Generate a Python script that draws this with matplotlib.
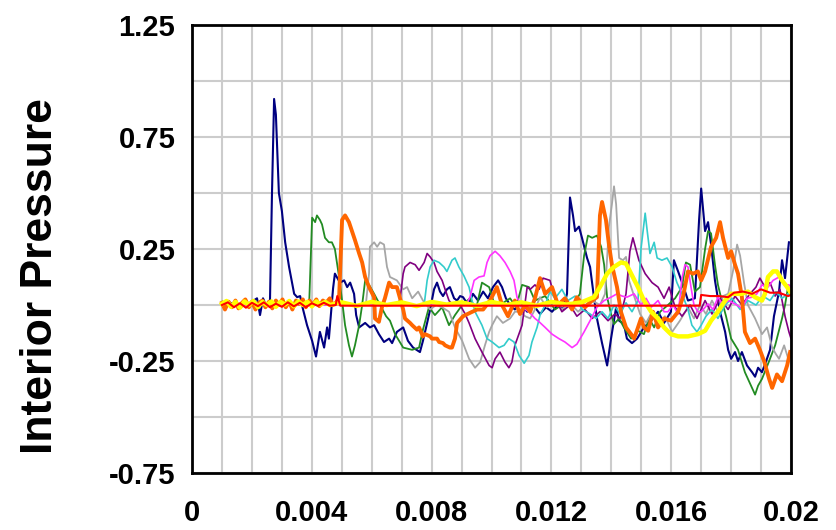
import numpy as np
import matplotlib
matplotlib.use("Agg")
import matplotlib.pyplot as plt

# time in ms, pressure
t_navy = [1.00, 1.27, 1.60, 1.94, 2.17, 2.27, 2.37, 2.47, 2.60, 2.67,
          2.74, 2.80, 2.90, 3.00, 3.11, 3.24, 3.41, 3.51, 3.61, 3.67,
          3.84, 4.01, 4.14, 4.27, 4.41, 4.51, 4.57, 4.64, 4.71, 4.77,
          4.94, 5.08, 5.18, 5.28, 5.41, 5.48, 5.58, 5.78, 5.94, 6.08,
          6.24, 6.41, 6.58, 6.68, 6.84, 7.05, 7.21, 7.38, 7.61, 7.71,
          7.85, 7.95, 8.08, 8.18, 8.28, 8.38, 8.51, 8.61, 8.75, 8.85,
          8.95, 9.05, 9.22, 9.38, 9.55, 9.72, 9.88, 10.05, 10.22, 10.35,
          10.48, 10.62, 10.78, 10.95, 11.19, 11.39, 11.62, 11.82, 12.02, 12.22,
          12.39, 12.52, 12.62, 12.72, 12.79, 12.92, 13.02, 13.19, 13.29, 13.42,
          13.52, 13.69, 13.86, 13.99, 14.16, 14.26, 14.42, 14.52, 14.69, 14.86,
          15.09, 15.33, 15.56, 15.76, 15.99, 16.09, 16.23, 16.39, 16.56, 16.79,
          16.93, 17.00, 17.13, 17.23, 17.33, 17.46, 17.63, 17.80, 17.90, 18.00,
          18.13, 18.23, 18.36, 18.53, 18.70, 18.80, 18.90, 19.03, 19.17, 19.30,
          19.43, 19.60, 19.70, 19.80, 19.93]
p_navy = [0.0, 0.01, -0.01, 0.01, 0.03, -0.045, 0.03, 0.0, 0.0, 0.5,
          0.92, 0.85, 0.5, 0.42, 0.28, 0.17, 0.05, 0.035, 0.04, 0.0,
          -0.09, -0.16, -0.23, -0.12, -0.19, -0.10, -0.15, -0.04, 0.075, 0.14,
          0.10, 0.11, 0.08, 0.10, 0.05, -0.045, -0.10, -0.08, -0.10, -0.09,
          -0.13, -0.165, -0.15, -0.17, -0.12, -0.10, -0.16, -0.19, -0.21, -0.16,
          -0.08, -0.02, 0.07, 0.10, 0.06, 0.04, 0.07, 0.08, 0.03, 0.02,
          0.04, 0.035, 0.0, 0.05, 0.02, 0.06, 0.03, 0.08, 0.11, 0.08,
          0.03, 0.0, -0.02, 0.01, -0.03, 0.0, -0.04, -0.01, -0.03, 0.0,
          -0.02, 0.05, 0.48, 0.40, 0.33, 0.35, 0.30, 0.21, 0.17, 0.035,
          -0.06, -0.17, -0.27, -0.15, -0.01, -0.07, -0.085, -0.15, -0.17, -0.15,
          -0.10, -0.07, -0.03, -0.08, -0.03, 0.20, 0.15, 0.09, 0.02, 0.03,
          0.38, 0.52, 0.33, 0.37, 0.27, 0.11, -0.03, -0.12, -0.20, -0.24,
          -0.21, -0.25, -0.21, -0.27, -0.30, -0.32, -0.28, -0.30, -0.25, -0.20,
          -0.05, 0.06, 0.20, 0.12, 0.28]

t_green = [1.00, 3.61, 3.91, 4.01, 4.11, 4.17, 4.27, 4.34, 4.44, 4.57,
           4.67, 4.77, 4.91, 5.01, 5.11, 5.24, 5.34, 5.44, 5.58, 5.68,
           5.78, 5.91, 6.08, 6.28, 6.48, 6.61, 6.78, 7.05, 7.35, 7.58,
           7.71, 7.91, 8.11, 8.35, 8.58, 8.78, 9.02, 9.28, 9.48, 9.68,
           9.92, 10.08, 10.28, 10.62, 10.82, 11.02, 11.25, 11.45, 11.79, 12.12,
           12.45, 12.69, 12.95, 13.09, 13.22, 13.36, 13.52, 13.66, 13.76, 13.86,
           13.99, 14.09, 14.26, 14.42, 14.66, 14.89, 15.09, 15.26, 15.43, 15.63,
           15.89, 16.13, 16.36, 16.49, 16.63, 16.79, 16.96, 17.13, 17.23, 17.33,
           17.46, 17.56, 17.66, 17.83, 18.00, 18.23, 18.46, 18.63, 18.80, 18.90,
           19.03, 19.27, 19.47, 19.70, 19.80, 19.90, 20.00]
p_green = [0.0, 0.0, 0.0, 0.39, 0.37, 0.40, 0.38, 0.36, 0.30, 0.28,
           0.28, 0.25, 0.125, 0.02, -0.09, -0.18, -0.23, -0.18, -0.09, 0.0,
           0.11, 0.09, 0.05, 0.0, -0.05, -0.07, -0.13, -0.19, -0.20, -0.19,
           -0.11, -0.01, -0.045, -0.01, -0.09, -0.045, 0.0, 0.03, -0.02, 0.10,
           0.08, 0.01, 0.0, 0.03, -0.01, 0.09, 0.08, 0.02, 0.04, -0.02,
           0.01, -0.01, 0.05, 0.22, 0.31, 0.30, 0.31, 0.26, 0.18, 0.035,
           -0.04, -0.085, -0.06, -0.10, -0.15, -0.115, -0.13, -0.06, -0.10, -0.03,
           0.0, 0.03, 0.08, 0.19, 0.18, 0.06, 0.08, 0.25, 0.33, 0.32,
           0.18, 0.09, 0.035, -0.05, -0.15, -0.20, -0.30, -0.35, -0.40, -0.36,
           -0.33, -0.25, -0.18, -0.06, 0.0, 0.08, 0.05]

t_orange = [1.00, 1.10, 1.22, 1.33, 1.45, 1.55, 1.67, 1.78, 1.90, 2.00,
            2.12, 2.23, 2.35, 2.45, 2.57, 2.68, 2.80, 2.90, 3.02, 3.13,
            3.25, 3.35, 3.47, 3.58, 3.70, 3.80, 3.92, 4.03, 4.15, 4.25,
            4.37, 4.48, 4.60, 4.70, 4.80, 4.91, 5.01, 5.11, 5.24, 5.34,
            5.44, 5.58, 5.68, 5.78, 5.91, 6.08, 6.11, 6.24, 6.34, 6.44,
            6.58, 6.68, 6.84, 7.05, 7.11, 7.28, 7.35, 7.51, 7.58, 7.71,
            7.78, 7.95, 8.01, 8.18, 8.25, 8.38, 8.45, 8.61, 8.68, 8.78,
            8.85, 9.05, 9.28, 9.52, 9.72, 9.95, 10.18, 10.35, 10.55, 10.78,
            10.95, 11.12, 11.29, 11.45, 11.62, 11.79, 12.02, 12.22, 12.45, 12.69,
            12.85, 13.12, 13.36, 13.52, 13.62, 13.69, 13.82, 13.92, 14.02, 14.19,
            14.32, 14.49, 14.66, 14.76, 14.89, 14.99, 15.09, 15.23, 15.39, 15.56,
            15.76, 15.99, 16.23, 16.39, 16.56, 16.73, 16.89, 17.00, 17.13, 17.33,
            17.50, 17.63, 17.73, 17.90, 18.00, 18.13, 18.23, 18.36, 18.46, 18.63,
            18.80, 18.96, 19.10, 19.27, 19.37, 19.53, 19.70, 19.87, 19.97]
p_orange = [0.01, -0.02, 0.015, -0.01, 0.02, -0.015, 0.01, 0.025, -0.01, 0.015,
            -0.02, 0.01, 0.02, -0.01, 0.015, -0.015, 0.02, 0.0, 0.025, -0.01,
            0.015, -0.02, 0.02, 0.005, 0.025, -0.01, 0.02, 0.0, 0.025, -0.005,
            0.02, 0.01, 0.03, 0.0, 0.01, 0.03, 0.38, 0.40, 0.37, 0.33,
            0.29, 0.23, 0.19, 0.125, 0.08, 0.035, -0.06, -0.075, -0.01, 0.03,
            0.10, 0.08, 0.08, -0.02, -0.06, -0.08, -0.09, -0.11, -0.10, -0.14,
            -0.13, -0.14, -0.15, -0.15, -0.165, -0.17, -0.18, -0.19, -0.19, -0.15,
            -0.08, -0.05, -0.035, -0.02, -0.02, 0.02, 0.08, 0.0, -0.05, 0.02,
            -0.04, 0.0, -0.03, 0.03, 0.12, 0.05, 0.08, 0.0, 0.03, -0.02,
            0.035, -0.01, 0.02, 0.035, 0.40, 0.46, 0.38, 0.27, 0.18, 0.08,
            -0.03, -0.10, -0.13, -0.15, -0.10, -0.06, -0.10, -0.115, -0.03, -0.10,
            -0.06, -0.07, -0.03, 0.035, 0.15, 0.14, 0.15, 0.11, 0.15, 0.26,
            0.30, 0.37, 0.30, 0.21, 0.24, 0.18, 0.14, 0.035, -0.12, -0.17,
            -0.15, -0.20, -0.25, -0.33, -0.37, -0.31, -0.34, -0.27, -0.21]

t_gray = [1.00, 5.61, 5.81, 5.91, 5.94, 6.08, 6.18, 6.28, 6.41, 6.51,
          6.61, 6.84, 7.05, 7.18, 7.35, 7.55, 7.71, 7.95, 8.15, 8.35,
          8.58, 8.78, 9.02, 9.25, 9.45, 9.62, 9.78, 9.92, 10.02, 10.18,
          10.38, 10.62, 10.78, 10.95, 11.12, 11.29, 11.45, 11.62, 11.85, 12.12,
          12.35, 12.62, 12.89, 13.12, 13.36, 13.62, 13.79, 13.92, 14.02, 14.09,
          14.16, 14.26, 14.39, 14.49, 14.59, 14.76, 14.96, 15.16, 15.36, 15.56,
          15.79, 16.03, 16.29, 16.56, 16.76, 16.96, 17.16, 17.36, 17.56, 17.73,
          17.90, 18.06, 18.20, 18.30, 18.43, 18.56, 18.80, 19.03, 19.20, 19.37,
          19.50, 19.60, 19.77, 19.93, 20.00]
p_gray = [0.0, 0.0, 0.01, 0.14, 0.26, 0.28, 0.26, 0.28, 0.27, 0.17,
          0.125, 0.11, 0.07, 0.08, 0.03, 0.06, 0.02, -0.02, 0.0, -0.01,
          -0.03, -0.10, -0.16, -0.24, -0.28, -0.255, -0.18, -0.12, -0.09, -0.05,
          -0.08, -0.06, -0.03, -0.03, -0.05, -0.06, -0.02, 0.035, -0.01, 0.02,
          -0.02, 0.01, -0.03, 0.0, 0.02, 0.0, 0.05, 0.35, 0.45, 0.53,
          0.45, 0.21, 0.20, 0.215, 0.11, 0.04, -0.04, -0.08, -0.03, -0.10,
          -0.05, -0.12, -0.07, -0.01, -0.06, 0.0, -0.04, 0.02, -0.03, 0.04,
          0.05, 0.15, 0.27, 0.22, 0.10, 0.0, -0.06, -0.13, -0.10, -0.19,
          -0.22, -0.24, -0.18, -0.25, -0.20]

t_purple = [1.00, 6.78, 6.94, 7.05, 7.11, 7.28, 7.45, 7.58, 7.75, 7.85,
            7.95, 8.08, 8.18, 8.35, 8.45, 8.58, 8.71, 8.95, 9.12, 9.25,
            9.45, 9.68, 9.92, 10.02, 10.12, 10.28, 10.45, 10.58, 10.68, 10.78,
            11.02, 11.19, 11.29, 11.45, 11.59, 11.72, 11.95, 12.12, 12.35, 12.62,
            12.85, 13.12, 13.36, 13.62, 13.89, 14.12, 14.29, 14.49, 14.62, 14.72,
            14.82, 14.92, 15.13, 15.36, 15.56, 15.76, 15.93, 16.13, 16.36, 16.63,
            16.86, 17.13, 17.36, 17.63, 17.90, 18.13, 18.36, 18.63, 18.83, 18.96,
            19.13, 19.30, 19.47, 19.63, 19.80, 19.93, 20.00]
p_purple = [0.0, 0.0, 0.02, 0.14, 0.17, 0.19, 0.18, 0.155, 0.19, 0.23,
            0.215, 0.19, 0.15, 0.11, 0.07, 0.02, 0.0, 0.0, -0.04, -0.08,
            -0.15, -0.21, -0.27, -0.28, -0.24, -0.21, -0.255, -0.28, -0.255, -0.18,
            -0.09, 0.08, 0.07, 0.09, 0.07, 0.12, 0.11, 0.03, -0.03, 0.0,
            -0.05, -0.02, -0.06, -0.03, -0.07, -0.04, -0.06, 0.05, 0.24, 0.30,
            0.25, 0.20, 0.14, 0.10, 0.08, 0.03, 0.08, -0.01, -0.05, 0.0,
            -0.06, 0.02, -0.04, 0.03, -0.02, 0.04, 0.0, 0.05, 0.08, 0.12,
            0.08, 0.10, 0.04, 0.07, -0.05, -0.12, -0.15]

t_cyan = [1.00, 7.75, 7.85, 7.95, 8.08, 8.25, 8.41, 8.51, 8.68, 8.78,
          8.91, 9.08, 9.25, 9.35, 9.45, 9.68, 9.85, 10.02, 10.25, 10.42,
          10.58, 10.75, 10.92, 11.09, 11.25, 11.35, 11.52, 11.62, 11.79, 11.95,
          12.12, 12.35, 12.55, 12.79, 13.02, 13.29, 13.49, 13.69, 13.89, 14.09,
          14.29, 14.49, 14.69, 14.89, 14.99, 15.13, 15.19, 15.29, 15.43, 15.53,
          15.69, 15.86, 16.03, 16.19, 16.36, 16.56, 16.69, 16.86, 17.00, 17.16,
          17.36, 17.56, 17.80, 18.03, 18.30, 18.56, 18.83, 19.06, 19.30, 19.50,
          19.70, 19.90, 20.00]
p_cyan = [0.0, 0.0, 0.11, 0.17, 0.20, 0.19, 0.17, 0.15, 0.20, 0.21,
          0.17, 0.13, 0.08, 0.02, -0.03, -0.09, -0.15, -0.165, -0.19, -0.18,
          -0.15, -0.165, -0.225, -0.26, -0.225, -0.165, -0.10, -0.045, 0.0, 0.06,
          0.03, 0.07, 0.02, 0.04, -0.02, -0.04, -0.06, -0.03, -0.06, 0.0,
          -0.04, 0.01, -0.03, 0.02, 0.25, 0.41, 0.34, 0.23, 0.28, 0.21,
          0.20, 0.21, 0.17, 0.10, 0.05, -0.02, -0.09, -0.12, -0.09, -0.05,
          -0.02, -0.06, 0.0, 0.03, -0.02, 0.02, 0.0, 0.04, 0.02, 0.06,
          0.03, 0.05, 0.04]

t_magenta = [1.00, 9.15, 9.28, 9.42, 9.58, 9.75, 9.85, 9.95, 10.12, 10.28,
             10.45, 10.62, 10.75, 10.85, 11.02, 11.25, 11.45, 11.59, 11.79, 12.02,
             12.25, 12.45, 12.69, 12.85, 13.09, 13.29, 13.52, 13.76, 13.99, 14.19,
             14.36, 14.52, 14.76, 14.99, 15.16, 15.33, 15.56, 15.76, 15.89, 16.06,
             16.23, 16.36, 16.46, 16.56, 16.66, 16.76, 16.89, 17.00, 17.23, 17.40,
             17.56, 17.73, 17.90, 18.13, 18.36, 18.53, 18.70, 18.86, 19.03, 19.23,
             19.40, 19.60, 19.77, 19.93, 20.00]
p_magenta = [0.0, 0.0, 0.035, 0.11, 0.125, 0.13, 0.19, 0.22, 0.24, 0.22,
             0.19, 0.15, 0.11, 0.035, -0.01, -0.03, -0.06, -0.075, -0.10, -0.13,
             -0.15, -0.165, -0.19, -0.175, -0.12, -0.07, -0.01, 0.02, 0.035, 0.05,
             0.04, 0.035, 0.05, 0.0, 0.03, -0.01, 0.02, -0.03, -0.03, 0.0,
             -0.04, 0.12, 0.18, 0.17, 0.08, 0.0, -0.03, -0.03, 0.005, -0.02,
             0.035, 0.0, 0.02, 0.005, -0.015, 0.03, 0.035, 0.05, 0.09, 0.08,
             0.11, 0.125, 0.09, 0.09, 0.08]

t_yellow = [1.00, 1.15, 1.30, 1.45, 1.60, 1.75, 1.90, 2.05, 2.20, 2.35,
            2.50, 2.65, 2.80, 2.95, 3.10, 3.25, 3.40, 3.55, 3.70, 3.85,
            4.00, 4.15, 4.30, 4.45, 4.60, 5.00, 5.50, 6.00, 6.50, 7.00,
            7.50, 8.00, 8.50, 9.00, 9.50, 10.00, 10.50, 11.00, 11.50, 12.00,
            12.50, 13.00, 13.42, 13.66, 13.86, 14.09, 14.32, 14.49, 14.66, 14.89,
            15.09, 15.33, 15.56, 15.76, 15.99, 16.23, 16.56, 16.89, 17.13, 17.33,
            17.56, 17.80, 18.00, 18.36, 18.56, 18.80, 19.03, 19.13, 19.23, 19.40,
            19.53, 19.70, 19.87, 19.97]
p_yellow = [0.005, 0.018, -0.008, 0.014, -0.012, 0.016, 0.0, 0.018, -0.01, 0.014,
            0.0, 0.016, -0.008, 0.014, 0.002, 0.018, -0.006, 0.016, 0.0, 0.014,
            -0.006, 0.016, 0.002, 0.014, 0.0, 0.012, -0.004, 0.014, 0.0, 0.012,
            -0.005, 0.014, 0.002, 0.012, -0.004, 0.014, 0.0, 0.012, -0.004, 0.014,
            0.002, 0.012, 0.035, 0.09, 0.14, 0.17, 0.19, 0.185, 0.14, 0.08,
            0.02, -0.03, -0.06, -0.10, -0.13, -0.14, -0.14, -0.13, -0.115, -0.07,
            -0.03, 0.02, 0.05, 0.05, 0.06, 0.035, 0.02, 0.05, 0.125, 0.15,
            0.15, 0.11, 0.08, 0.06]

t_red = [1.00, 1.20, 1.40, 1.60, 1.80, 2.00, 2.20, 2.40, 2.60, 2.80,
         3.00, 3.20, 3.40, 3.60, 3.80, 4.00, 4.20, 4.40, 4.60, 4.80,
         4.85, 4.95, 16.95, 17.00, 17.30, 17.60, 17.90, 18.10, 18.40, 18.70,
         19.00, 19.30, 19.60, 19.90, 20.00]
p_red = [0.0, 0.012, -0.01, 0.008, -0.012, 0.01, -0.005, 0.012, -0.01, 0.006,
         -0.008, 0.012, -0.006, 0.01, -0.01, 0.008, -0.004, 0.01, -0.003, 0.0,
         0.04, -0.003, -0.003, 0.045, 0.04, 0.04, 0.035, 0.055, 0.06, 0.05,
         0.07, 0.055, 0.055, 0.04, 0.045]

x_labels = ["0", "0.004", "0.008", "0.012", "0.016", "0.02"]
y_labels = ["-0.75", "-0.25", "0.25", "0.75", "1.25"]

series = [
    (t_navy, p_navy, "#000080", 1.5),
    (t_green, p_green, "#228B22", 1.3),
    (t_gray, p_gray, "#A6A6A6", 1.3),
    (t_purple, p_purple, "#800080", 1.2),
    (t_cyan, p_cyan, "#33CCCC", 1.2),
    (t_magenta, p_magenta, "#FF33FF", 1.2),
    (t_orange, p_orange, "#FF6600", 2.8),
    (t_yellow, p_yellow, "#FFFF00", 3.2),
    (t_red, p_red, "#FF0000", 1.5),
]

plt.rcParams["font.family"] = ["Liberation Sans", "DejaVu Sans"]
plt.rcParams["font.weight"] = "bold"

fig = plt.figure(figsize=(8.36, 5.30), dpi=100)
ax = fig.add_axes([0.2297, 0.1075, 0.7165, 0.8453])

for t, p, c, lw in series:
    ax.plot(np.array(t) / 1000, p, color=c, lw=lw, solid_joinstyle="round")

ax.set_xlim(0, 0.02)
ax.set_ylim(-0.75, 1.25)
ax.set_xticks(np.linspace(0, 0.02, len(x_labels)))
ax.set_xticklabels(x_labels)
ax.set_xticks(np.arange(0, 0.02001, 0.001), minor=True)
ax.set_yticks([float(s) for s in y_labels])
ax.set_yticklabels(y_labels)
ax.set_yticks(np.arange(-0.75, 1.2501, 0.25), minor=True)
ax.grid(which="both", color="#CCCCCC", lw=1.5)
ax.set_axisbelow(True)
ax.tick_params(which="both", length=0)
ax.tick_params(axis="y", pad=12, labelsize=21)
ax.tick_params(axis="x", pad=19, labelsize=21)
for s in ax.spines.values():
    s.set_linewidth(2.0)
    s.set_color("black")

ax.set_ylabel("Interior Pressure", fontsize=32, fontweight="bold")
ax.yaxis.set_label_coords(-0.219, 0.44)

fig.savefig("out.png", dpi=100)
